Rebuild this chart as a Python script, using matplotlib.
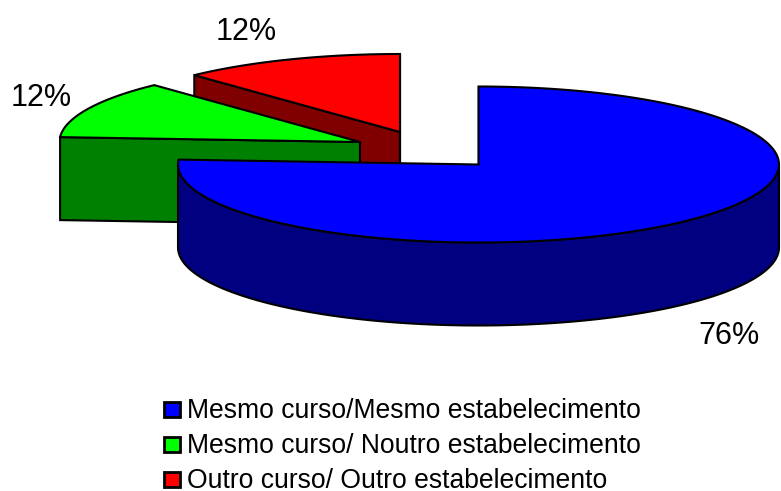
import numpy as np
import matplotlib
matplotlib.use("Agg")
import matplotlib.pyplot as plt
from matplotlib.patches import Polygon, Rectangle

plt.rcParams['font.family'] = ['Liberation Sans', 'DejaVu Sans']

labels = ["Mesmo curso/Mesmo estabelecimento", "Mesmo curso/ Noutro estabelecimento", "Outro curso/ Outro estabelecimento"]
shares = [76, 12, 12]
top_colors = ["#0000FF", "#00FF00", "#FF0000"]
side_colors = ["#000080", "#008000", "#800000"]

# layout of the exploded slices, in pixels
centers = [(478.5, 164.5), (360, 142), (400, 132)]
pct_pos = [(729, 336), (41, 98), (246, 32)]
legend_base = [418, 453, 488]
rx, ry, depth = 300.5, 78, 83
lw = 1.5


def rim(cx, cy, a0, a1):
    # angles in degrees clockwise from 12 o'clock
    t = np.radians(np.linspace(a0, a1, 200))
    return np.column_stack([cx + rx * np.sin(t), cy - ry * np.cos(t)])


fig = plt.figure(figsize=(7.81, 4.91), dpi=100)
ax = fig.add_axes([0, 0, 1, 1])
ax.set_xlim(0, 781)
ax.set_ylim(491, 0)
ax.axis("off")

ends = np.cumsum(shares) / sum(shares) * 360
starts = np.r_[0, ends[:-1]]
down = np.array([0, depth])

for i in [2, 1, 0]:
    a0, a1 = starts[i], ends[i]
    cx, cy = centers[i]
    tip = np.array([[cx, cy]])

    # cut faces, only the ones turned towards the viewer
    for a, normal in ((a0, a0 - 90), (a1, a1 + 90)):
        if np.cos(np.radians(normal)) > 1e-9:
            continue
        edge = rim(cx, cy, a, a)[:1]
        q = np.vstack([tip, edge, edge + down, tip + down])
        ax.add_patch(Polygon(q, fc=side_colors[i], ec="black", lw=lw))

    # outer wall on the front half
    lo, hi = max(a0, 90), min(a1, 270)
    if lo < hi:
        arc = rim(cx, cy, lo, hi)
        q = np.vstack([arc, arc[::-1] + down])
        ax.add_patch(Polygon(q, fc=side_colors[i], ec="black", lw=lw))

    arc = rim(cx, cy, a0, a1)
    ax.add_patch(Polygon(np.vstack([tip, arc]), fc=top_colors[i], ec="black", lw=lw))

for s, (x, y) in zip(shares, pct_pos):
    ax.text(x, y, f"{s}%", fontsize=22, ha="center", va="center", color="black")

for i, lab in enumerate(labels):
    y = legend_base[i]
    ax.add_patch(Rectangle((164, y - 16), 16, 15, fc=top_colors[i], ec="black", lw=2))
    ax.text(187, y, lab, fontsize=19.1, ha="left", va="baseline", color="black")

fig.savefig("out.png", dpi=100)
